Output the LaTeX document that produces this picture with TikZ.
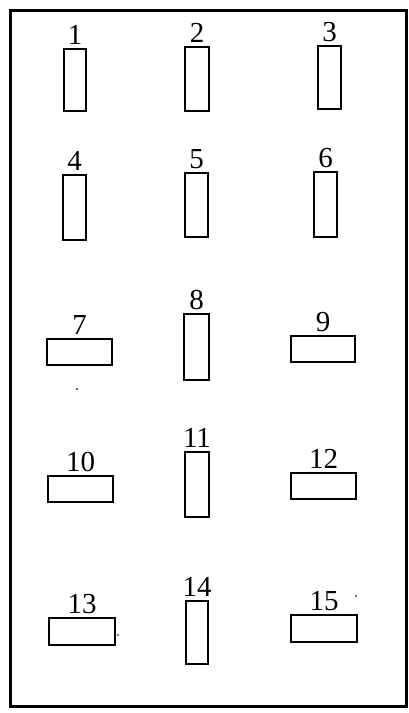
\documentclass[tikz,border=0pt]{standalone}
\usepackage{fontspec}
\setmainfont{Liberation Serif}
\begin{document}
\begin{tikzpicture}[x=1pt,y=-1pt,
  box/.style={draw, line width=2.9pt, inner sep=0pt, outer sep=0pt},
  lab/.style={inner sep=0pt, font=\fontsize{29}{29}\selectfont},
  frame/.style={draw, line width=3pt}]
\useasboundingbox (0,0) rectangle (409,713);
\draw[frame] (10,10) rectangle (406,706);
\foreach \n/\xa/\ya/\xb/\yb in {
  1/64/49/86/111, 2/185/47/209/111, 3/318/46/341/109,
  4/63/175/86/240, 5/185/173/208/237, 6/314/172/337/237,
  7/47/339/112/365, 8/184/314/209/380, 9/291/336/355/362,
  10/48/476/113/502, 11/185/452/209/517, 12/291/473/356/499,
  13/49/618/115/645, 14/186/601/208/664, 15/291/615/357/642}{
  \node[box, minimum width={(\xb-\xa)*1pt}, minimum height={(\yb-\ya)*1pt}]
    (r\n) at ({(\xa+\xb)/2},{(\ya+\yb)/2}) {};
  \node[lab, anchor=base] (l\n) at ({(\xa+\xb)/2},{\ya-5}) {\n};
}
\fill (77,389) circle (1);
\fill (118,635) circle (0.8);
\fill (356,596) circle (0.8);
\end{tikzpicture}
\end{document}
